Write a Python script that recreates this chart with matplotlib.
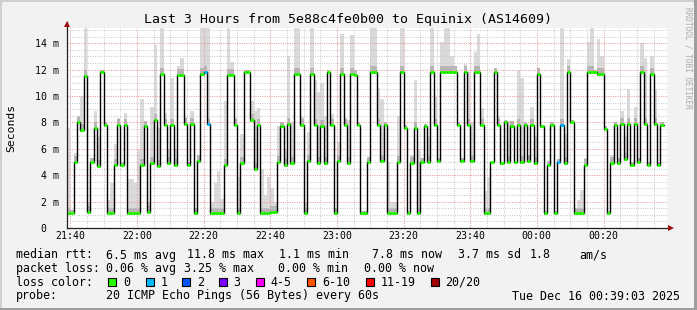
import numpy as np
import matplotlib.pyplot as plt
from matplotlib.patches import Rectangle

plt.rcParams['font.family'] = ['DejaVu Sans Mono']

# time axis in minutes after 21:00 (graph spans 21:39:03 .. 00:39:03)
start_min = 39 + 3 / 60
end_min = start_min + 180
first_step = 39

# median rtt per 1-minute step (ms)
median_ms = [
    1.1, 1.1, 5.0, 8.0, 7.4, 11.5, 1.2, 5.0, 7.6, 4.7, 11.8, 7.8, 1.1, 1.1, 4.8,
    7.8, 4.8, 7.8, 1.1, 1.1, 1.1, 1.1, 4.8, 7.7, 1.2, 4.9, 8.2, 4.7, 11.7, 7.8,
    4.9, 7.8, 4.8, 11.6, 11.6, 7.9, 4.8, 7.9, 1.1, 5.1, 11.7, 11.8, 7.9, 1.1, 1.1,
    1.1, 1.1, 4.8, 11.6, 11.6, 7.8, 1.1, 4.9, 11.8, 11.8, 8.2, 4.5, 7.8, 1.1, 1.1,
    1.1, 1.2, 1.2, 5.0, 7.7, 4.8, 7.9, 4.9, 11.7, 11.7, 7.8, 1.1, 5.1, 11.7, 7.8,
    4.9, 7.7, 4.9, 11.8, 7.8, 1.1, 5.1, 11.7, 7.8, 4.9, 11.7, 11.6, 7.8, 1.1, 1.1,
    5.0, 11.8, 11.8, 7.8, 5.1, 7.8, 1.1, 1.1, 1.1, 5.0, 11.8, 7.6, 1.1, 4.9, 7.6,
    1.1, 5.0, 7.7, 5.0, 11.8, 7.8, 5.1, 11.8, 11.8, 11.8, 11.8, 11.8, 7.8, 5.1, 11.8,
    7.8, 5.1, 11.8, 11.8, 7.8, 1.1, 1.1, 5.0, 11.8, 7.8, 4.9, 8.0, 5.0, 7.7, 5.0,
    7.8, 5.0, 7.8, 5.1, 7.8, 4.9, 11.7, 7.7, 1.1, 4.8, 7.8, 1.1, 5.0, 7.8, 4.9,
    11.8, 8.0, 1.1, 1.1, 1.1, 4.8, 11.8, 11.8, 11.8, 11.7, 11.7, 7.5, 1.1, 4.9, 7.8,
    4.9, 7.9, 5.2, 7.9, 4.8, 7.9, 5.0, 11.8, 7.9, 4.8, 11.7, 7.9, 4.8, 7.8,
]

# top of the smoke (slowest ping) per step (ms)
smoke_hi_ms = [
    7.6, 1.4, 5.7, 8.5, 10.0, 15.5, 2.0, 5.3, 8.9, 6.9, 12.0, 8.0, 2.1, 3.4, 6.4,
    8.3, 5.0, 8.7, 3.7, 3.7, 3.4, 5.9, 9.8, 8.1, 2.0, 9.2, 13.9, 7.6, 15.5, 8.7,
    6.0, 11.4, 6.0, 12.3, 12.9, 8.4, 5.0, 8.9, 1.5, 5.5, 15.5, 15.5, 15.5, 2.0, 3.4,
    4.3, 2.2, 9.6, 15.5, 12.6, 8.3, 3.9, 7.1, 12.0, 12.0, 9.6, 8.9, 9.1, 4.5, 2.5,
    3.9, 3.0, 2.0, 7.7, 8.0, 6.0, 13.0, 8.0, 15.5, 15.5, 8.4, 2.0, 7.3, 15.5, 11.2,
    10.3, 11.0, 8.5, 12.0, 8.6, 1.5, 6.5, 14.7, 8.3, 8.2, 14.6, 12.0, 8.0, 1.3, 1.3,
    5.4, 15.5, 15.5, 10.6, 9.8, 8.0, 5.0, 2.0, 2.0, 8.5, 15.5, 7.8, 1.3, 5.5, 11.2,
    6.0, 5.3, 7.9, 7.0, 15.5, 9.9, 5.3, 14.1, 15.5, 15.5, 13.0, 12.3, 8.0, 5.3, 12.4,
    11.8, 8.0, 13.3, 14.7, 9.1, 2.8, 3.9, 5.0, 12.1, 8.5, 5.0, 8.2, 8.1, 8.1, 5.0,
    11.9, 11.4, 8.0, 5.5, 9.2, 7.0, 12.1, 7.8, 1.3, 5.1, 8.0, 1.3, 5.2, 15.5, 7.1,
    12.8, 8.2, 1.5, 2.1, 2.9, 5.3, 14.1, 15.5, 12.0, 14.3, 13.0, 7.7, 1.3, 5.5, 8.0,
    5.3, 8.9, 7.0, 10.5, 5.0, 9.2, 5.3, 14.0, 12.9, 5.0, 13.0, 10.5, 5.0, 8.0,
]

# steps with lost packets
loss_steps = [41, 42, 147, 148]
loss_counts = [1, 1, 1, 1]

tick_pos = [40, 60, 80, 100, 120, 140, 160, 180, 200]
tick_labels = ['21:40', '22:00', '22:20', '22:40', '23:00', '23:20', '23:40', '00:00', '00:20']
y_ticks = [0, 2, 4, 6, 8, 10, 12, 14]
y_labels = ['0  ', '2 m', '4 m', '6 m', '8 m', '10 m', '12 m', '14 m']

loss_names = ['0', '1', '2', '3', '4-5', '6-10', '11-19', '20/20']
loss_colors = ['#26ff00', '#00b8ff', '#0059ff', '#7e00ff', '#ff00ff', '#ff5500', '#ff0000', '#a10000']

W, H = 697, 310
fig = plt.figure(figsize=(W / 100, H / 100), dpi=100)
fig.patch.set_facecolor('#f2f2f2')

# 3d-ish frame
fig.add_artist(Rectangle((0, 0), 1, 2 / H, transform=fig.transFigure, fc='#9e9e9e', lw=0))
fig.add_artist(Rectangle((1 - 3 / W, 0), 3 / W, 1, transform=fig.transFigure, fc='#9e9e9e', lw=0))
fig.add_artist(Rectangle((0, 1 - 2 / H), 1 - 3 / W, 2 / H, transform=fig.transFigure, fc='#cfcfcf', lw=0))
fig.add_artist(Rectangle((0, 2 / H), 2 / W, 1 - 4 / H, transform=fig.transFigure, fc='#cfcfcf', lw=0))

ax = fig.add_axes([67 / W, (H - 228) / H, 600 / W, 200 / H])
ax.set_facecolor('white')
for s in ax.spines.values():
    s.set_visible(False)
ax.set_xlim(start_min, end_min)
ax.set_ylim(0, 15.15)

med = np.array(median_ms)
hi = np.array(smoke_hi_ms)
x0 = first_step + np.arange(len(med))
edges = np.append(x0, x0[-1] + 1)
med_e = np.append(med, med[-1])
hi_e = np.append(hi, hi[-1])

# smoke
ax.fill_between(edges, med_e - 0.1, hi_e, step='post', color='#dadada', lw=0, zorder=1)
ax.fill_between(edges, med_e - 0.1, np.minimum(hi_e, med_e + 0.45), step='post',
                color='#b5b5b5', lw=0, zorder=1.1)

# grid
ax.set_xticks(tick_pos)
ax.set_xticklabels(tick_labels)
ax.set_xticks(np.arange(40, 219, 5), minor=True)
ax.set_yticks(y_ticks)
ax.set_yticklabels(y_labels)
ax.set_yticks(np.arange(0.5, 15.01, 0.5), minor=True)
ax.set_axisbelow(False)
ax.grid(which='major', color='#ef9a9a', lw=0.75, linestyle=(0, (1, 1.2)))
ax.grid(which='minor', color='#cdcdcd', lw=0.75, linestyle=(0, (1, 1.2)))
ax.tick_params(which='both', length=0)
ax.tick_params(axis='x', pad=2.5, labelsize=7.1)
ax.tick_params(axis='y', pad=6, labelsize=7.1)

# median line + loss coloured marks
ax.step(edges, med_e, where='post', color='black', lw=1.0, zorder=3)
seg_colors = [loss_colors[0]] * len(med)
for st, n in zip(loss_steps, loss_counts):
    seg_colors[st] = loss_colors[n]
ax.hlines(med, x0, x0 + 1, colors=seg_colors, lw=2.1, zorder=4, capstyle='butt')

# axes with arrows
ax.plot([0, 0], [0, 1.03], transform=ax.transAxes, color='#202020', lw=0.9, clip_on=False, zorder=6)
ax.plot([0, 1.006], [0, 0], transform=ax.transAxes, color='#202020', lw=0.9, clip_on=False, zorder=6)
ax.plot([0], [1.022], marker='^', ms=4.5, color='#a01010', mew=0, transform=ax.transAxes,
        clip_on=False, zorder=7)
ax.plot([1.0065], [0], marker='>', ms=4.5, color='#a01010', mew=0, transform=ax.transAxes,
        clip_on=False, zorder=7)


def ftext(x, y, s, **kw):
    fig.text(x / W, 1 - y / H, s, **kw)


ftext(347.5, 19, 'Last 3 Hours from 5e88c4fe0b00 to Equinix (AS14609)', ha='center', va='center',
      fontsize=9.5)
ftext(11, 128, 'Seconds', rotation=90, ha='center', va='center', fontsize=8.2)
ftext(688, 58, 'RRDTOOL / TOBI OETIKER', rotation=270, ha='center', va='center', fontsize=5.6,
      color='#ababab')

fs = 8.35
ftext(15.5, 255, 'median rtt:', va='center', fontsize=fs)
for x, s in [(106.5, '6.5 ms avg'), (187.5, '11.8 ms max'), (278.8, '1.1 ms min'),
             (371.8, '7.8 ms now'), (457.8, '3.7 ms sd'), (529.5, '1.8'), (578.8, 'am/s')]:
    ftext(x, 255, s, va='center', fontsize=fs)

ftext(15.5, 268.3, 'packet loss:', va='center', fontsize=fs)
for x, s in [(106.5, '0.06 % avg'), (184.5, '3.25 % max'), (278.5, '0.00 % min'),
             (364.5, '0.00 % now')]:
    ftext(x, 268.3, s, va='center', fontsize=fs)

ftext(15.5, 282.3, 'loss color:', va='center', fontsize=fs)
box_x = [108.3, 145.7, 182.3, 219, 256, 307.3, 365.7, 430.7]
for bx, name, col in zip(box_x, loss_names, loss_colors):
    fig.add_artist(Rectangle((bx / W, 1 - 286 / H), 8 / W, 8 / H, transform=fig.transFigure,
                             fc=col, ec='black', lw=0.8))
    ftext(bx + 14.5, 282.3, name, va='center', fontsize=fs)

ftext(15.5, 296, 'probe:', va='center', fontsize=fs)
ftext(106.5, 296, '20 ICMP Echo Pings (56 Bytes) every 60s', va='center', fontsize=fs)
ftext(680.5, 296, 'Tue Dec 16 00:39:03 2025', ha='right', va='center', fontsize=fs)

fig.savefig('out.png', dpi=100, facecolor=fig.get_facecolor())
